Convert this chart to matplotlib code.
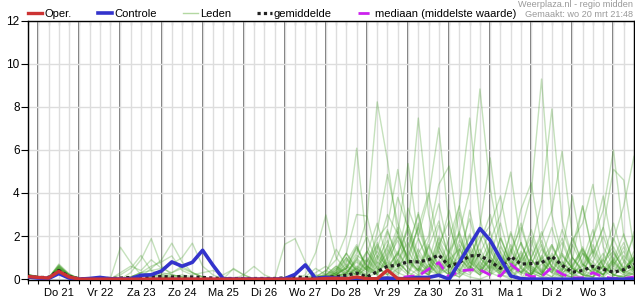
import numpy as np
import matplotlib
matplotlib.use('Agg')
import matplotlib.pyplot as plt
from matplotlib.lines import Line2D

plt.rcParams['font.family'] = ['Liberation Sans', 'DejaVu Sans']

# 6-hourly time steps, hours since Do 21 00:00
tijd_uren = list(range(-6, 349, 6))
dag_labels = ['Do 21', 'Vr 22', 'Za 23', 'Zo 24', 'Ma 25', 'Di 26', 'Wo 27',
              'Do 28', 'Vr 29', 'Za 30', 'Zo 31', 'Ma 1', 'Di 2', 'Wo 3']
y_ticks = [0, 2, 4, 6, 8, 10, 12]

oper = [.12, .08, .05, .36, .1, 0, 0, 0, 0, 0, 0, 0, 0, 0, 0,
        0, 0, 0, 0, 0, 0, 0, 0, 0, 0, 0, 0, 0, 0, .03,
        .04, .02, .1, .02, .02, .42, .02, 0, 0, 0]

controle = [.1, .05, .03, .26, .05, 0, .03, .08, .02, 0, .02, .18, .2, .38, .8,
            .6, .78, 1.34, .65, .02, 0, 0, 0, 0, 0, .02, .22, .66, .03, .08,
            .05, .02, 0, 0, .02, .05, .02, .02, .08, .08, .18, 0, .78, 1.57, 2.35,
            1.8, .95, .15, .02, 0, 0, 0, 0, 0, 0, 0, 0, 0, 0, 0]

gemiddelde = [.12, .08, .08, .4, .12, .02, .02, .03, .03, .05, .08, .08, .1, .12, .1,
              .12, .1, .08, .05, .03, .03, .03, .03, .03, .03, .06, .1, .08, .05, .08,
              .12, .18, .28, .1, .35, .6, .64, .82, .8, .9, 1.12, .6, .77, 1.08, 1.1,
              .82, .5, 1.05, .7, .72, .76, 1.06, .64, .32, .4, .6, .46, .32, .44, .69]

mediaan = [.1, .06, .05, .35, .1, 0, 0, 0, 0, 0, 0, 0, 0, 0, 0,
           0, 0, 0, 0, 0, 0, 0, 0, 0, 0, 0, 0, 0, 0, 0,
           0, 0, 0, 0, 0, 0, .03, .12, .15, .46, .77, .1, .38, .43, .43,
           .2, .15, .69, .31, .12, .12, .54, .23, .06, .06, .3, .1, .03, .03, .1]

leden = [
    [.15, .08, .05, .45, .15, .02, 0, 0, 0, 1.48, .77, .2, .1, .05, 0,
     0, 0, 0, 0, 0, 0, 0, 0, 0, 0, 0, 0, 0, .1, .4,
     .9, 2.1, 6.08, 1.5, .6, 1.2, 2.4, .8, .3, 1.1, .5, .2, 1.4, .6, .3,
     .9, .2, 0, .6, 1.8, .4, .1, .8, .3, 0, .5, 1.2, .2, .1, .4],
    [.2, .1, .05, .6, .2, .02, 0, 0, 0, 0, .1, .3, .2, .1, .05,
     0, 0, 0, 0, 0, 0, 0, 0, 0, 0, 0, 0, .05, .2, .1,
     .3, .5, 1.2, 2.8, 8.23, 5.5, 2.1, 1.0, .4, .2, 1.5, .6, .2, .8, 2.4,
     1.1, .3, .6, 1.7, .5, .2, 0, .4, 1.0, .3, .1, .6, .2, 0, .3],
    [.1, .05, .05, .3, .1, 0, 0, 0, 0, .2, .5, 1.1, .4, .2, .1,
     0, 0, 0, 0, 0, 0, 0, 0, 0, 0, 0, 0, 0, .3, .6,
     .2, .8, 1.6, .4, 2.2, 4.86, 2.6, 1.3, 3.1, .7, .2, .5, 1.8, .9, .4,
     .2, 1.3, .4, 0, .7, 1.6, .5, .1, .3, 1.2, .8, .2, .6, 1.5, .4],
    [.15, .08, .05, .5, .2, 0, 0, 0, 0, 0, .3, .9, 1.88, .6, .2,
     .1, 0, 0, 0, 0, 0, 0, 0, 0, 0, 0, 0, 0, 0, .2,
     .5, .2, 1.1, .8, 1.9, 2.5, 5.09, 2.2, .9, .4, 1.6, 2.7, .8, .3, 1.2,
     2.2, .7, .2, .5, 1.4, .3, .9, 1.9, .6, .2, .1, .8, 1.3, .4, .2],
    [.2, .1, .05, .55, .15, .02, 0, 0, 0, 0, 0, .1, .5, .9, 1.67,
     .8, .3, .1, 0, 0, 0, 0, 0, 0, 0, 0, 0, 0, 0, .1,
     .3, 1.0, .4, .2, 1.4, 3.0, 2.1, 5.37, 1.9, .8, 2.5, 1.1, .4, 3.2, 1.0,
     .5, 1.9, .8, .3, .2, 1.1, .4, .1, .7, 1.4, .5, .2, 1.0, .3, .9],
    [.12, .06, .05, .35, .1, 0, 0, 0, 0, 0, 0, 0, .1, .2, .3,
     .5, .3, .1, 0, 0, 0, 0, 0, 0, 0, 0, 0, 0, .05, .2,
     .6, .3, .9, 2.0, .7, 1.5, 3.8, 2.4, 7.48, 3.0, 1.2, .4, .9, 2.1, .6,
     1.4, .4, 1.1, 2.6, .9, .3, 1.5, .6, .2, .1, .8, 2.0, .7, .3, 1.1],
    [.18, .1, .05, .65, .2, .03, 0, 0, 0, 0, .1, .3, .4, .5, .7,
     1.0, 1.67, .6, .2, 0, 0, 0, 0, 0, 0, 0, 0, 0, .1, .4,
     .2, .5, 1.4, .6, .3, 2.2, 1.1, 3.3, 2.0, 3.8, 7.02, 2.5, 1.0, .5, 1.7,
     3.0, 1.2, .4, .9, 2.3, .8, .3, 1.2, .5, .2, 1.6, .6, .2, .5, 1.0],
    [.1, .05, .03, .25, .1, 0, 0, 0, 0, 0, 0, 0, 0, .1, .2,
     .1, 0, 0, 0, 0, 0, 0, 0, 0, 0, 0, 0, 0, 0, .1,
     .4, 1.2, .5, .2, .9, 1.8, .6, 2.5, 1.2, 2.0, 4.4, 5.25, 1.9, .8, .4,
     1.1, 2.6, .9, .3, .7, 1.8, .5, .2, .1, .9, 2.3, .6, .2, .1, .5],
    [.22, .12, .06, .7, .25, .02, 0, 0, 0, 0, 0, 0, .1, .3, .2,
     .1, .05, 0, 0, 0, 0, 0, 0, 0, 0, 0, 0, 0, 0, .05,
     .2, .6, .3, 1.2, 2.6, .9, .4, 1.5, 3.0, 1.1, .5, 1.9, 3.4, 7.48, 2.8,
     1.0, .5, 1.6, .6, .2, 1.0, 2.4, .8, .3, .6, 1.3, .4, .1, .8, 2.0],
    [.15, .08, .05, .5, .15, 0, 0, 0, 0, 0, 0, 0, 0, 0, .1,
     .2, .1, 0, 0, 0, 0, 0, 0, 0, 0, 0, 0, 0, 0, 0,
     .1, .3, .8, .4, 1.1, .6, 2.0, .9, .4, 1.8, 3.5, 1.3, 2.2, 4.1, 8.83,
     4.2, 1.6, .6, 1.2, .4, .2, .9, 1.7, .5, .2, .1, .6, 1.9, .8, .3],
    [.12, .06, .04, .3, .12, 0, 0, 0, 0, 0, 0, 0, 0, 0, 0,
     0, 0, 0, 0, 0, 0, 0, 0, 0, 0, 1.62, 1.88, .8, .1, .2,
     .4, 1.0, .3, .6, 1.5, .5, 1.2, 2.3, .8, .3, 1.4, 3.2, 1.1, .4, 2.5,
     5.63, 2.0, .7, .3, 1.0, 2.2, .8, .3, .6, 1.5, .4, .2, .9, 2.1, .7],
    [.16, .09, .05, .45, .15, .02, 0, 0, 0, 0, 0, 0, 0, 0, 0,
     0, 0, 0, 0, 0, 0, 0, 0, 0, 0, 0, 0, .2, 1.23, 2.98,
     1.0, .4, .2, .8, 1.6, .6, .3, 1.1, 2.4, .9, .4, 1.3, .6, 2.0, .8,
     1.8, 3.0, 4.97, 1.6, .6, .3, 1.2, .5, 1.9, .7, .3, 1.0, 2.6, .9, .4],
    [.14, .07, .05, .4, .12, 0, 0, 0, 0, 0, 0, 0, 0, .05, .1,
     .05, 0, 0, 0, 0, 0, 0, 0, 0, 0, 0, 0, 0, 0, 0,
     .2, .5, 1.5, .6, .3, 1.0, 2.2, .8, .4, 1.6, .6, .2, 1.3, 2.8, 1.0,
     .4, 1.5, .6, 2.2, 4.0, 9.29, 3.0, 1.1, .5, 1.4, .6, .2, .8, 1.7, .5],
    [.2, .1, .05, .6, .2, .02, 0, 0, 0, 0, 0, 0, 0, 0, 0,
     0, 0, 0, 0, 0, .5, .2, 0, 0, 0, 0, 0, 0, 0, .05,
     .3, .9, .4, 1.3, .5, .2, 1.1, 2.5, .9, .4, 1.7, .7, 3.1, 1.2, .5,
     1.6, .6, 2.1, .8, 1.5, 3.6, 7.9, 2.7, 1.0, .4, 1.1, 2.4, .8, .3, 1.3],
    [.1, .05, .04, .28, .1, 0, 0, 0, 0, 0, 0, 0, 0, 0, 0,
     0, 0, 0, 0, 0, 0, .2, .59, .2, 0, 0, 0, 0, 0, .1,
     .2, .6, 1.5, .5, .2, .9, 1.8, .7, 2.6, 1.0, .3, 1.2, 2.1, .7, 1.4,
     .5, 1.9, .7, .3, 1.0, 2.0, 3.2, 5.94, 2.0, .7, .3, .9, 1.5, .5, 2.2],
    [.18, .09, .05, .55, .18, .02, 0, 0, 0, 0, 0, 0, 0, 0, 0,
     0, 0, 0, 0, 0, 0, 0, 0, 0, 0, 0, 0, 0, 0, .2,
     .6, .2, 1.0, .4, 1.7, .6, 1.2, .5, .2, 1.5, 2.7, .9, .4, 1.1, 2.0,
     .8, .3, 1.3, 2.4, .9, .4, 1.6, .6, 1.8, 2.6, 4.4, 1.5, .6, .3, 1.0],
    [.13, .07, .04, .38, .12, 0, 0, 0, 0, 0, 0, 0, 0, 0, 0,
     0, 0, 0, 0, 0, 0, 0, 0, 0, 0, 0, 0, 0, 0, 0,
     .1, .4, .2, .9, .3, 1.4, .5, 2.0, .8, .3, 1.1, .5, 1.6, .6, .2,
     1.3, .5, 2.2, .8, .3, 1.4, .6, 2.3, 1.0, .4, 1.9, 3.2, 5.99, 2.0, .7],
    [.2, .1, .05, .65, .22, .02, 0, 0, 0, 0, 0, 0, 0, 0, 0,
     0, 0, 0, 0, 0, 0, 0, 0, 0, 0, 0, 0, 0, 0, 0,
     .3, .7, .3, .1, .8, .4, 1.3, .5, 1.9, .7, .2, .9, 1.4, .5, 1.2,
     .4, 1.1, .5, 1.7, .6, .2, 1.0, .4, 1.5, 3.4, 1.2, 2.4, 5.1, 4.6, 1.4],
    [.15, .08, .05, .42, .14, 0, 0, 0, 0, 0, 0, 0, 0, 0, 0,
     0, 0, 0, 0, 0, 0, 0, 0, 0, 0, 0, 0, 0, 0, 0,
     .2, .1, .6, .3, 1.0, 2.3, .8, .3, 1.2, .5, 1.9, .7, .3, 1.0, .4,
     1.5, .6, .2, 1.0, 2.0, .8, .3, 1.1, .5, .2, 1.4, .6, 1.8, 3.4, 5.7],
    [.17, .09, .05, .48, .16, 0, 0, 0, 0, 0, 0, 0, 0, 0, 0,
     0, 0, 0, 0, 0, 0, 0, 0, 0, 0, 0, 0, 0, 0, .1,
     .5, 1.2, 3.0, 2.93, 1.0, .4, .9, 1.7, .6, .2, 1.3, .5, 2.2, .8, .3,
     1.0, .4, 1.4, .5, .2, .9, 1.6, .6, .2, 1.2, .5, .2, .7, 1.3, .4],
    [.12, .06, .04, .32, .1, 0, 0, 0, 0, 0, 0, 0, 0, 0, 0,
     0, 0, 0, 0, 0, 0, 0, 0, 0, 0, 0, 0, 0, 0, 0,
     .1, .3, .9, .4, .2, 1.1, 2.0, 1.0, 2.4, 4.0, 1.5, .6, 1.0, .4, 1.8,
     2.5, 3.86, 1.3, .5, .2, 1.0, .4, 1.3, 3.86, 1.2, .4, .9, .3, 1.1, .5],
    [.19, .1, .05, .58, .2, .02, 0, 0, 0, 0, 0, 0, 0, 0, 0,
     0, 0, 0, 0, 0, 0, 0, 0, 0, 0, 0, 0, 0, 0, 0,
     .3, .1, .5, 1.3, .5, .2, .8, .3, 1.4, .5, 2.0, 1.2, 3.4, 1.1, .4,
     .9, .3, 1.2, 3.24, 4.47, 1.5, .6, .2, .9, 3.4, 1.1, .4, 1.2, .5, .9],
    [.11, .05, .03, .22, .08, 0, 0, 0, 0, 0, 0, 0, 0, 0, 0,
     0, 0, 0, 0, 0, 0, 0, 0, 0, 0, 0, 0, 0, 0, .3,
     1.39, .6, .2, .5, 1.3, .5, .2, .9, .4, 1.5, .6, .2, .8, 1.6, .6,
     .3, .9, .4, 1.3, .5, .2, 1.1, .4, 1.6, .6, 1.9, 3.86, 1.3, .4, 1.0],
    [.14, .08, .05, .36, .12, 0, 0, 0, 0, 0, 0, 0, 0, 0, 0,
     0, 0, 0, 0, 0, 0, 0, 0, 0, 0, 0, 0, 0, 0, 0,
     .4, 1.2, .4, .1, .6, .2, .9, .3, .1, .7, .3, 1.0, .4, .2, .8,
     .3, .1, .6, .2, .9, .3, .1, .5, .2, .7, .3, .1, .5, .2, .6],
    [.2, .1, .05, .52, .17, .02, 0, 0, 0, 0, 0, 0, 0, 0, 0,
     0, 0, 0, 0, 0, 0, 0, 0, 0, 0, 0, 0, 0, 0, 0,
     0, .2, .5, .1, .3, .8, .3, .1, .5, .2, .9, .3, .1, .6, .2,
     .7, .2, .4, 1.0, .3, .1, .6, .2, .1, .4, .2, .6, .2, .1, .3],
    [.16, .08, .05, .44, .15, 0, 0, 0, 0, 0, .1, .3, .6, .8, 1.08,
     .4, .2, .3, .4, .2, .46, .2, 0, 0, 0, 0, 0, 0, 0, 0,
     .2, .5, .2, 1.0, .4, 1.6, .6, .2, 1.1, .4, .2, .8, .3, 1.4, .5,
     .2, .8, .3, 1.1, .4, .2, .9, .3, .6, 1.3, .5, .2, .8, .3, .5],
    [.13, .07, .04, .34, .11, 0, 0, 0, 0, .3, .6, .4, .9, .5, .3,
     .6, .3, .1, 0, 0, 0, 0, 0, 0, 0, 0, 0, 0, 0, 0,
     .1, .3, .1, .6, .2, .1, .5, 1.3, .5, .2, .7, .3, .1, .5, .2,
     .6, .2, .1, .4, .2, .7, .3, .1, .5, .2, .1, .4, .9, .3, .2],
    [.18, .09, .05, .5, .16, .02, 0, 0, 0, 0, 0, 0, 0, 0, 0,
     0, 0, 0, 0, 0, 0, 0, 0, 0, 0, 0, 0, .1, .5, .2,
     .1, 0, .3, .1, 0, .4, .1, 0, .2, .6, .2, 0, .3, .1, 0,
     .2, .5, .1, 0, .3, .1, 0, .2, .1, 0, .3, .1, 0, .2, .1],
]

x = np.array(tijd_uren) / 24.0

fig = plt.figure(figsize=(6.35, 3.0), dpi=100)
ax = fig.add_axes([28 / 635, 20 / 300, 606 / 635, 259.3 / 300])

ax.set_xlim(-0.25, 14.5)
ax.set_ylim(-0.04, 12)
ax.set_xticks(x, minor=True)
ax.set_xticks(np.arange(len(dag_labels)) + 0.5)
ax.set_xticklabels(dag_labels)
ax.xaxis.remove_overlapping_locs = False
ax.grid(which='minor', axis='x', color='#dddddd', lw=1.0, zorder=0)
ax.set_yticks(y_ticks)
ax.grid(which='major', axis='y', color='#dddddd', lw=1.0, zorder=0)
for d in range(0, 15):
    ax.axvline(d, color='#555555', lw=1.2, zorder=1)

ax.tick_params(axis='x', which='major', length=0, pad=6, labelsize=8)
ax.tick_params(axis='x', which='minor', length=3, width=0.8, direction='out')
ax.tick_params(axis='y', length=5, width=0.8, pad=1, labelsize=8.5)

sec = ax.secondary_xaxis('top')
sec.set_xticks(x)
sec.tick_params(direction='in', length=3, width=0.8, labeltop=False)
sec.spines['top'].set_visible(False)

for s in ax.spines.values():
    s.set_color('black')
    s.set_linewidth(1.0)

# ensemble members
for m in leden:
    ax.plot(x, m, color='#3f9c22', alpha=0.3, lw=1.0, zorder=2)

h_gem, = ax.plot(x, gemiddelde, color='#222222', lw=2.3, ls=(0, (1, 1)), zorder=4)
h_med, = ax.plot(x, mediaan, color='#cc22ee', lw=2.0, ls=(0, (4, 2.5)), zorder=5)
h_ctrl, = ax.plot(x, controle, color='#3333cc', lw=2.6, zorder=6)
h_oper, = ax.plot(x[:len(oper)], oper, color='#cc3333', lw=2.4, zorder=7)

leg_leden = Line2D([], [], color='#b3d8a2', lw=1.0)
ax.legend([h_oper, h_ctrl, leg_leden, h_gem, h_med],
          ['Oper.', 'Controle', 'Leden', 'gemiddelde', 'mediaan (middelste waarde)'],
          ncol=5, loc='lower left', bbox_to_anchor=(-0.003, 1.0), frameon=False,
          fontsize=8, handlelength=1.3, handletextpad=0.2, columnspacing=2.35,
          borderpad=0, borderaxespad=0.15)

fig.text(0.997, 1 - 4.5 / 300, 'Weerplaza.nl - regio midden', ha='right', va='center',
         fontsize=6.6, color='#999999')
fig.text(0.997, 1 - 14.5 / 300, 'Gemaakt: wo 20 mrt 21:48', ha='right', va='center',
         fontsize=6.6, color='#999999')

fig.savefig('out.png', dpi=100)
